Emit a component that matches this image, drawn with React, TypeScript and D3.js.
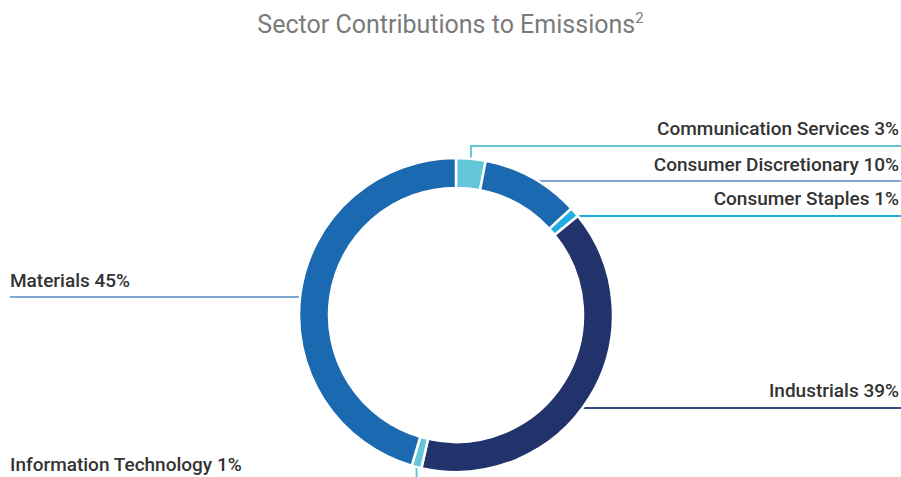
import React from "react";
import * as d3 from "d3";

const sectors = [
  "Communication Services",
  "Consumer Discretionary",
  "Consumer Staples",
  "Industrials",
  "Information Technology",
  "Materials",
];
const shares = [3, 10, 1, 39, 1, 45];
const sliceColors = ["#63C7D9", "#1B69B1", "#20AEE5", "#22336B", "#63C7D9", "#1B69B1"];
const lineColors = ["#63C7D9", "#7FA8D6", "#20AEE5", "#3A4A80", "#63C7D9", "#7FA8D6"];
const titleText = "Sector Contributions to Emissions";
const titleSup = "2";

const W = 901;
const H = 477;
const cx = 456;
const cy = 315;
const rOuter = 157;
const rInner = 127;

export default function App() {
  const pie = d3
    .pie<number>()
    .sort(null)
    .value((d) => d)
    .startAngle(0)
    .endAngle(2 * Math.PI);
  const arcs = pie(shares);
  const arc = d3.arc<d3.PieArcDatum<number>>().innerRadius(rInner).outerRadius(rOuter);

  const pt = (a: number, r: number) => [cx + r * Math.sin(a), cy - r * Math.cos(a)];

  const lineY = [146, 181, 216, 408, 0, 297];
  const textY = [135, 171, 205, 397, 471, 287];
  const fontSize = 19;

  const leaders = arcs.map((a, i) => {
    const mid = (a.startAngle + a.endAngle) / 2;
    const [ox, oy] = pt(mid, rOuter);
    const label = `${sectors[i]} ${shares[i]}%`;
    const ly = lineY[i];
    if (i === 0) {
      return { path: `M${ox},${oy}V${ly}H${W}`, label, tx: W - 2, anchor: "end" };
    }
    if (i === 1 || i === 2 || i === 3) {
      const dy = ly - cy;
      const sx = cx + Math.sqrt(Math.max(0, rOuter * rOuter - dy * dy)) - 2;
      return { path: `M${sx},${ly}H${W}`, label, tx: W - 2, anchor: "end" };
    }
    if (i === 4) {
      return { path: `M${ox},${oy}V${H + 5}`, label, tx: 10, anchor: "start" };
    }
    const dy = ly - cy;
    const sx = cx - Math.sqrt(rOuter * rOuter - dy * dy) + 2;
    return { path: `M10,${ly}H${sx}`, label, tx: 10, anchor: "start" };
  });

  return (
    <svg
      width={W}
      height={H}
      style={{ position: "absolute", left: 0, top: 0, background: "#fff" }}
      fontFamily="Roboto, 'Noto Sans', sans-serif"
    >
      <text x={W / 2} y={33} textAnchor="middle" fontSize={25} fill="#7a7a7a">
        {titleText}
        <tspan dy={-10} fontSize={15}>
          {titleSup}
        </tspan>
      </text>
      {leaders.map((l, i) => (
        <path key={"l" + i} d={l.path} fill="none" stroke={lineColors[i]} strokeWidth={2} />
      ))}
      <g transform={`translate(${cx},${cy})`}>
        {arcs.map((a, i) => (
          <path key={"a" + i} d={arc(a) || ""} fill={sliceColors[i]} stroke="#fff" strokeWidth={2.5} />
        ))}
      </g>
      {leaders.map((l, i) => (
        <text
          key={"t" + i}
          x={l.tx}
          y={textY[i]}
          textAnchor={l.anchor as any}
          fontSize={fontSize}
          fontWeight={500}
          fill="#333"
        >
          {l.label}
        </text>
      ))}
    </svg>
  );
}
